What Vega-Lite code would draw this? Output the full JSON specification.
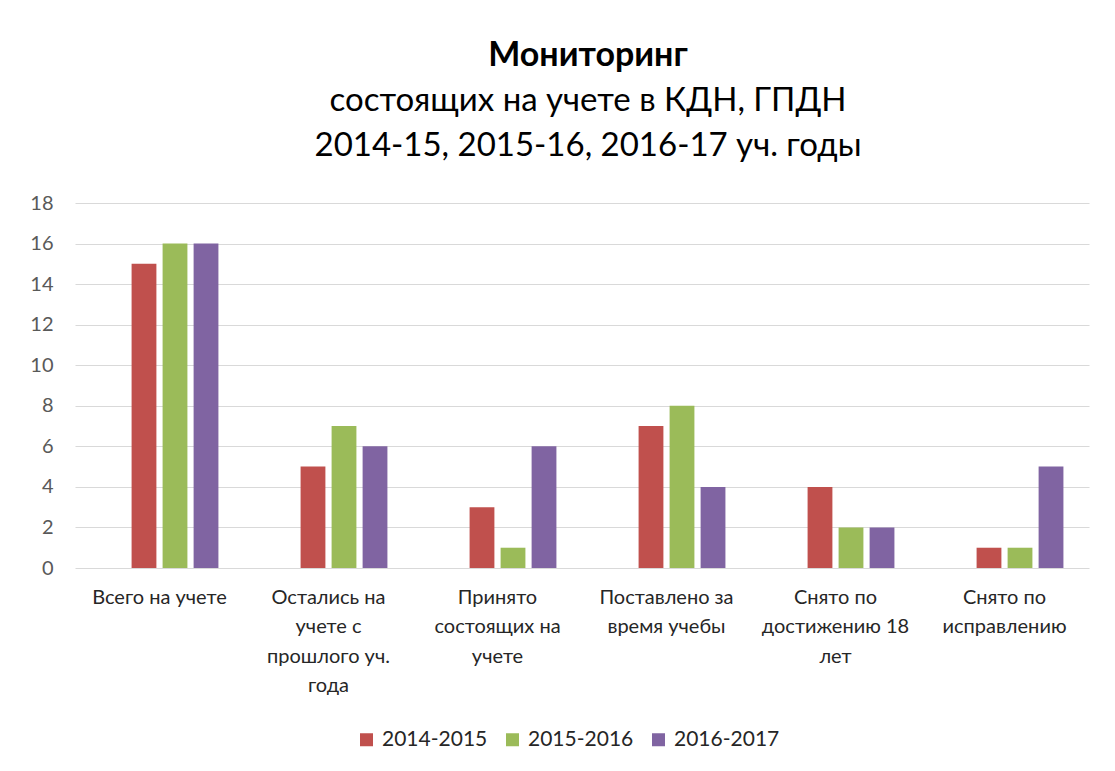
{
  "$schema": "https://vega.github.io/schema/vega-lite/v6.json",
  "width": 1014,
  "height": 365,
  "autosize": {"type": "none"},
  "padding": {"left": 75, "top": 203, "right": 26, "bottom": 203},
  "background": "white",
  "config": {"font": "Lato", "view": {"stroke": null}},
  "title": {
    "text": "Мониторинг",
    "subtitle": ["состоящих на учете в КДН, ГПДН", "2014-15, 2015-16, 2016-17 уч. годы"],
    "fontSize": 34,
    "fontWeight": "bold",
    "color": "#000000",
    "subtitleFontSize": 33,
    "subtitleFontWeight": "normal",
    "subtitleColor": "#000000",
    "subtitleLineHeight": 45,
    "subtitlePadding": 12,
    "anchor": "middle",
    "dx": 6,
    "offset": 30
  },
  "data": {
    "values": [
      {"category": "Всего на учете", "year": "2014-2015", "value": 15},
      {"category": "Всего на учете", "year": "2015-2016", "value": 16},
      {"category": "Всего на учете", "year": "2016-2017", "value": 16},
      {"category": "Остались на учете с прошлого уч. года", "year": "2014-2015", "value": 5},
      {"category": "Остались на учете с прошлого уч. года", "year": "2015-2016", "value": 7},
      {"category": "Остались на учете с прошлого уч. года", "year": "2016-2017", "value": 6},
      {"category": "Принято состоящих на учете", "year": "2014-2015", "value": 3},
      {"category": "Принято состоящих на учете", "year": "2015-2016", "value": 1},
      {"category": "Принято состоящих на учете", "year": "2016-2017", "value": 6},
      {"category": "Поставлено за время учебы", "year": "2014-2015", "value": 7},
      {"category": "Поставлено за время учебы", "year": "2015-2016", "value": 8},
      {"category": "Поставлено за время учебы", "year": "2016-2017", "value": 4},
      {"category": "Снято по достижению 18 лет", "year": "2014-2015", "value": 4},
      {"category": "Снято по достижению 18 лет", "year": "2015-2016", "value": 2},
      {"category": "Снято по достижению 18 лет", "year": "2016-2017", "value": 2},
      {"category": "Снято по исправлению", "year": "2014-2015", "value": 1},
      {"category": "Снято по исправлению", "year": "2015-2016", "value": 1},
      {"category": "Снято по исправлению", "year": "2016-2017", "value": 5}
    ]
  },
  "mark": {"type": "bar"},
  "encoding": {
    "x": {
      "field": "category",
      "type": "nominal",
      "sort": null,
      "scale": {"paddingInner": 0.266, "paddingOuter": 0.133},
      "axis": {
        "title": null,
        "labelAngle": 0,
        "labelFontSize": 20,
        "labelColor": "#262626",
        "labelLineHeight": 29.5,
        "labelPadding": 19,
        "labelBaseline": "top",
        "ticks": false,
        "domain": false,
        "grid": false,
        "labelLimit": 200,
        "labelExpr": "datum.label == 'Остались на учете с прошлого уч. года' ? ['Остались на', 'учете с', 'прошлого уч.', 'года'] : datum.label == 'Принято состоящих на учете' ? ['Принято', 'состоящих на', 'учете'] : datum.label == 'Поставлено за время учебы' ? ['Поставлено за', 'время учебы'] : datum.label == 'Снято по достижению 18 лет' ? ['Снято по', 'достижению 18', 'лет'] : datum.label == 'Снято по исправлению' ? ['Снято по', 'исправлению'] : datum.label"
      }
    },
    "xOffset": {
      "field": "year",
      "type": "nominal",
      "scale": {"domain": ["", "2014-2015", "2015-2016", "2016-2017"], "paddingInner": 0.2, "paddingOuter": 0.1}
    },
    "y": {
      "field": "value",
      "type": "quantitative",
      "scale": {"domain": [0, 18], "nice": false},
      "axis": {
        "title": null,
        "values": [0, 2, 4, 6, 8, 10, 12, 14, 16, 18],
        "labelFontSize": 20,
        "labelColor": "#595959",
        "labelPadding": 22,
        "ticks": false,
        "domain": false,
        "gridColor": "#D9D9D9",
        "gridWidth": 1
      }
    },
    "color": {
      "field": "year",
      "type": "nominal",
      "scale": {"domain": ["2014-2015", "2015-2016", "2016-2017"], "range": ["#C0504D", "#9BBB59", "#8064A2"]},
      "legend": {
        "title": null,
        "orient": "none",
        "legendX": 281,
        "legendY": 526,
        "direction": "horizontal",
        "symbolType": "square",
        "symbolSize": 169,
        "symbolStrokeWidth": 0,
        "labelOffset": 5,
        "labelFontSize": 21,
        "labelColor": "#262626",
        "columnPadding": 14
      }
    }
  }
}
